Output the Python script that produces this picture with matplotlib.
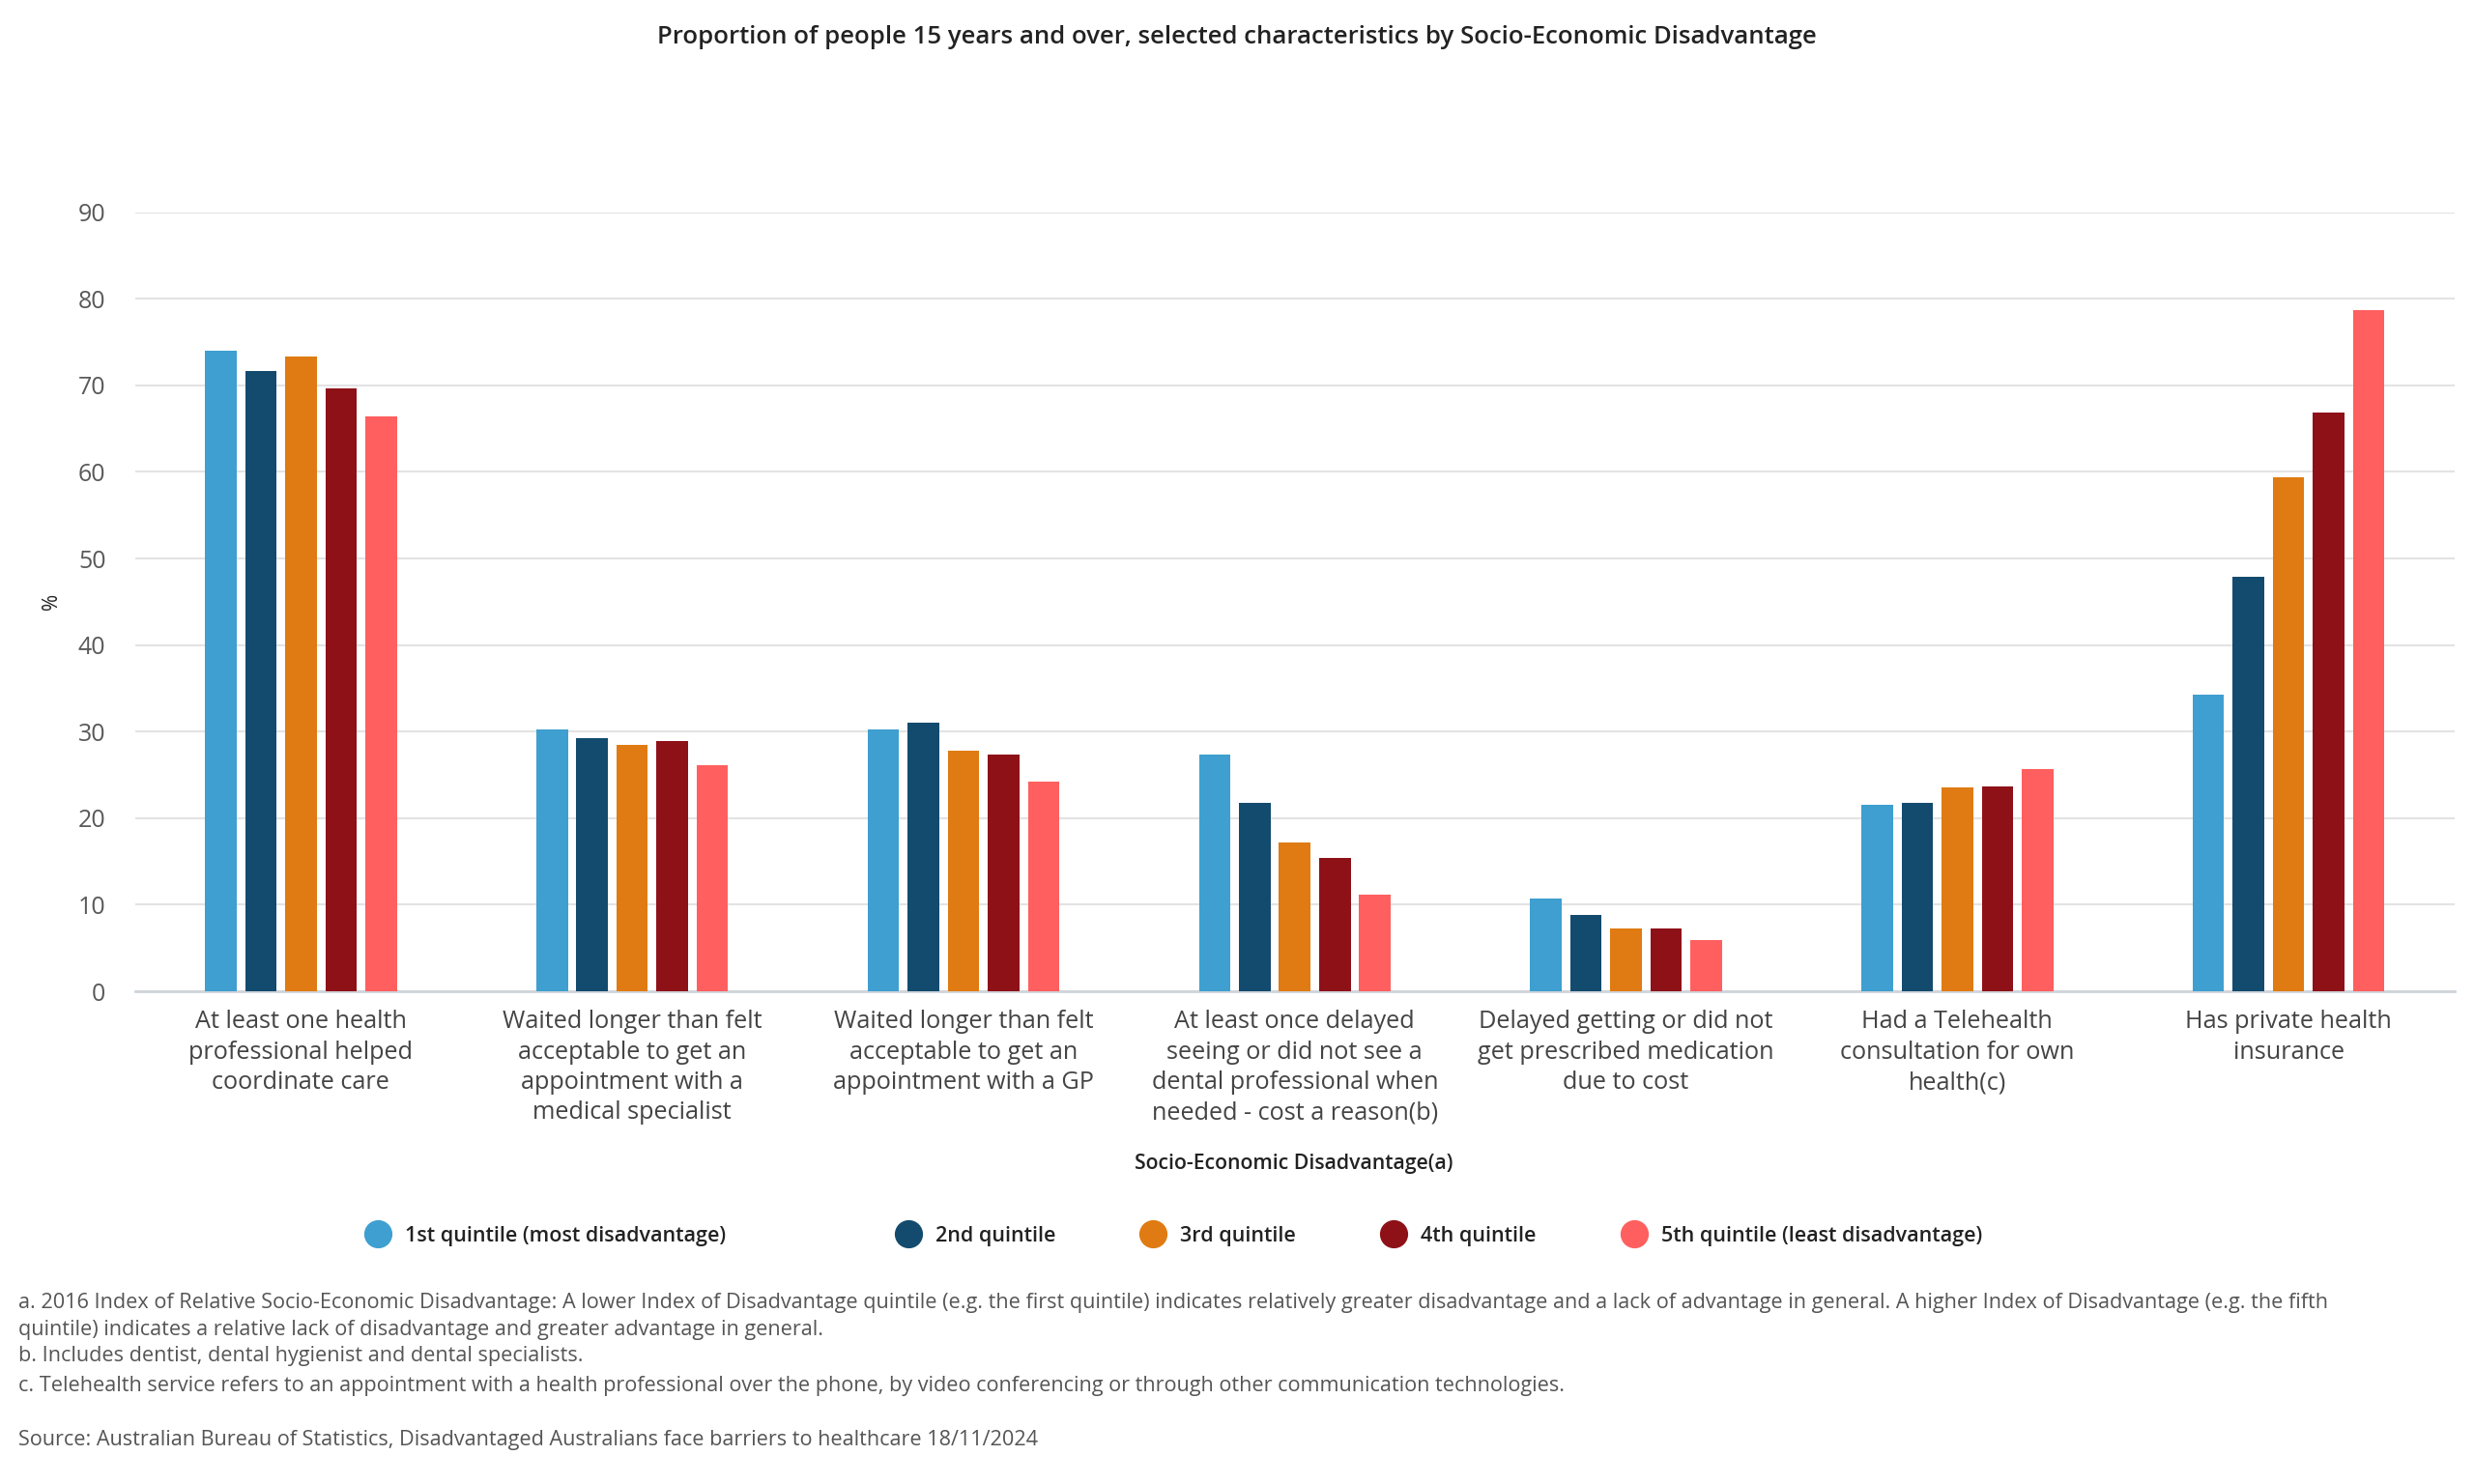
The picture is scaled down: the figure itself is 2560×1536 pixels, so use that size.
"""
Grouped bar chart: proportion of people 15 years and over by Socio-Economic Disadvantage quintile
"""
import numpy as np
import matplotlib
matplotlib.use("Agg")
import matplotlib.pyplot as plt
from matplotlib.lines import Line2D

plt.rcParams['font.family'] = ['Open Sans', 'DejaVu Sans']

categories = [
    "At least one health\nprofessional helped\ncoordinate care",
    "Waited longer than felt\nacceptable to get an\nappointment with a\nmedical specialist",
    "Waited longer than felt\nacceptable to get an\nappointment with a GP",
    "At least once delayed\nseeing or did not see a\ndental professional when\nneeded - cost a reason(b)",
    "Delayed getting or did not\nget prescribed medication\ndue to cost",
    "Had a Telehealth\nconsultation for own\nhealth(c)",
    "Has private health\ninsurance",
]
series_names = [
    "1st quintile (most disadvantage)",
    "2nd quintile",
    "3rd quintile",
    "4th quintile",
    "5th quintile (least disadvantage)",
]
q1 = [74.0, 30.3, 30.3, 27.3, 10.7, 21.6, 34.3]
q2 = [71.7, 29.3, 31.0, 21.8, 8.8, 21.8, 47.9]
q3 = [73.3, 28.5, 27.8, 17.2, 7.3, 23.5, 59.4]
q4 = [69.6, 28.9, 27.3, 15.4, 7.3, 23.7, 66.9]
q5 = [66.4, 26.1, 24.2, 11.2, 5.9, 25.7, 78.7]
yticks = [0, 10, 20, 30, 40, 50, 60, 70, 80, 90]

colors = ['#3E9FD0', '#134B6E', '#DF7B12', '#8E1118', '#FF5F5F']

fig = plt.figure(figsize=(25.6, 15.36), dpi=100)
ax = fig.add_axes([0.0547, 0.332, 0.9373, 0.525])

x = np.arange(len(categories))
step = 0.121
width = 0.095
for i, (vals, name) in enumerate(zip([q1, q2, q3, q4, q5], series_names)):
    ax.bar(x + (i - 2) * step, vals, width, color=colors[i], label=name, zorder=3)

ax.set_xlim(-0.5, len(categories) - 0.5)
ax.set_ylim(0, 90)
ax.set_yticks(yticks)
ax.set_xticks(x)
ax.set_xticklabels(categories, fontsize=18.2, color='#444444', linespacing=1.33, va='top')
ax.tick_params(axis='x', length=0, pad=14)
ax.tick_params(axis='y', length=0, pad=22, labelsize=18, labelcolor='#595959')
ax.grid(axis='y', color='#e3e3e3', linewidth=1.5, zorder=0)
for side in ['top', 'right', 'left']:
    ax.spines[side].set_visible(False)
ax.spines['bottom'].set_color('#cfd4da')
ax.spines['bottom'].set_linewidth(2)
ax.set_ylabel('%', fontsize=15, color='#222222', labelpad=12)

fig.text(0.5, 0.975, "Proportion of people 15 years and over, selected characteristics by Socio-Economic Disadvantage",
         ha='center', va='center', fontsize=18.5, fontweight='semibold', color='#222222')
fig.text(0.523, 0.2155, "Socio-Economic Disadvantage(a)", ha='center', va='center',
         fontsize=15.3, fontweight='semibold', color='#222222')

handles = [Line2D([0], [0], marker='o', linestyle='', markersize=20, markerfacecolor=c,
                  markeredgecolor=c) for c in colors]
# first entry sits apart from the rest, so it gets its own legend
leg1 = fig.legend(handles[:1], series_names[:1], loc='center', bbox_to_anchor=(0.219, 0.167),
                  frameon=False, fontsize=15.5, handletextpad=0.3)
leg2 = fig.legend(handles[1:], series_names[1:], loc='center', bbox_to_anchor=(0.58, 0.167), ncol=4,
                  frameon=False, fontsize=15.5, columnspacing=3.7, handletextpad=0.3)
for leg in (leg1, leg2):
    for t in leg.get_texts():
        t.set_fontweight('semibold')
        t.set_color('#222222')

notes = [
    (0.122, "a. 2016 Index of Relative Socio-Economic Disadvantage: A lower Index of Disadvantage quintile (e.g. the first quintile) indicates relatively greater disadvantage and a lack of advantage in general. A higher Index of Disadvantage (e.g. the fifth"),
    (0.104, "quintile) indicates a relative lack of disadvantage and greater advantage in general."),
    (0.086, "b. Includes dentist, dental hygienist and dental specialists."),
    (0.0664, "c. Telehealth service refers to an appointment with a health professional over the phone, by video conferencing or through other communication technologies."),
    (0.0293, "Source: Australian Bureau of Statistics, Disadvantaged Australians face barriers to healthcare 18/11/2024"),
]
for y, txt in notes:
    fig.text(0.0075, y, txt, ha='left', va='center', fontsize=15.6, color='#555555')

fig.savefig("out.png", dpi=100, facecolor='white')
